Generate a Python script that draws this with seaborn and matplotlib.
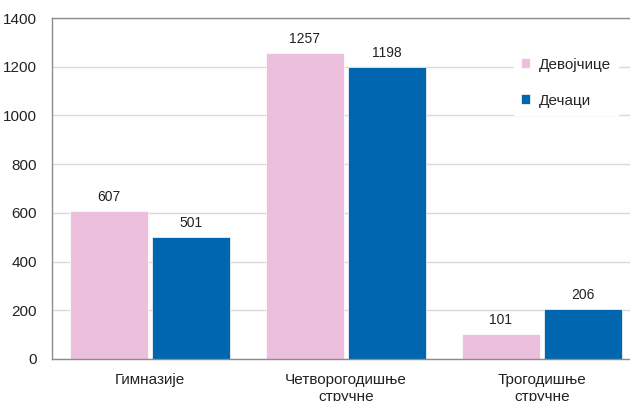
import matplotlib
matplotlib.use("Agg")
import matplotlib.pyplot as plt
import seaborn as sns
import pandas as pd

categories = ["Гимназије", "Четворогодишње\nстручне", "Трогодишње\nстручне"]
series_names = ["Девојчице", "Дечаци"]
girls = [607, 1257, 101]
boys = [501, 1198, 206]
yticks = [0, 200, 400, 600, 800, 1000, 1200, 1400]
colors = ["#ECBFDD", "#0066B0"]

df = pd.DataFrame({
    "cat": categories * 2,
    "series": [series_names[0]] * 3 + [series_names[1]] * 3,
    "val": girls + boys,
})

sns.set_theme(style="white")
plt.rcParams["font.family"] = ["Liberation Sans", "DejaVu Sans"]

fig = plt.figure(figsize=(6.3, 4.01), dpi=100)
ax = fig.add_axes([52/630, 1-359/401, 588/630, (359-18)/401])

sns.barplot(data=df, x="cat", y="val", hue="series", palette=colors,
            width=0.84, gap=0.05, ax=ax, saturation=1, legend=True,
            edgecolor="white", linewidth=0.5)

ax.set_ylim(0, 1400)
ax.set_xlim(-0.5, 2.5)
ax.set_yticks(yticks)
ax.set_yticklabels([str(t) for t in yticks], fontsize=11, color="#222222")
ax.set_xticks(range(len(categories)))
ax.set_xticklabels(categories, fontsize=11, color="#222222", linespacing=1.25)
ax.tick_params(axis="x", length=0, pad=10)
ax.tick_params(axis="y", length=0, pad=11)
ax.set_xlabel("")
ax.set_ylabel("")
ax.grid(axis="y", color="#D9D9D9", linewidth=1)
ax.set_axisbelow(True)
for s in ["left", "bottom", "top"]:
    ax.spines[s].set_color("#8C8C8C")
    ax.spines[s].set_linewidth(1)
ax.spines["right"].set_visible(False)

for cont in ax.containers:
    ax.bar_label(cont, fmt="%d", padding=5, fontsize=10, color="#222222")

leg = ax.legend(loc="upper left", bbox_to_anchor=(454/588, 1-25/341),
                frameon=True, fontsize=11, handlelength=0.6, handleheight=0.6,
                labelspacing=1.45, borderpad=0.45, handletextpad=0.6)
leg.get_frame().set_facecolor("white")
leg.get_frame().set_edgecolor("white")
leg.get_frame().set_alpha(1)
leg.get_frame().set_boxstyle("square", pad=0)

fig.savefig("out.png", dpi=100)
